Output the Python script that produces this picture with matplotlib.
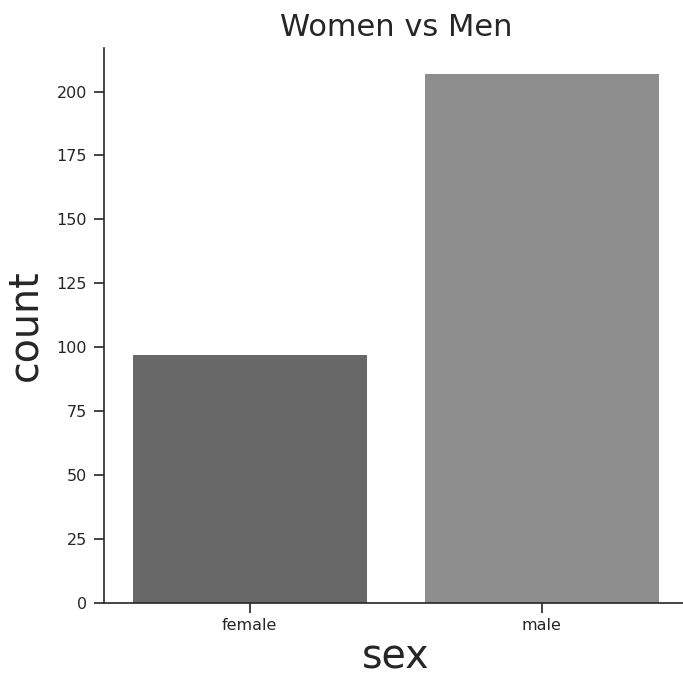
import matplotlib
matplotlib.use("Agg")
import matplotlib.pyplot as plt

# datos del gráfico
categorias = ["female", "male"]
conteos = [97, 207]
colores = ["#686868", "#8e8e8e"]

texto = "#262626"

fig = plt.figure(figsize=(6.83, 6.78), dpi=100)
ax = fig.add_axes([0.152, 0.111, 0.855, 0.818])

ax.bar(range(len(categorias)), conteos, width=0.8, color=colores)
ax.set_xticks(range(len(categorias)))
ax.set_xticklabels(categorias, fontsize=11.5, color=texto)
ax.set_xlim(-0.5, 1.5)
ax.set_ylim(0, 217)
ax.set_yticks(range(0, 201, 25))
ax.tick_params(axis="y", labelsize=11.5, labelcolor=texto, pad=5)
ax.tick_params(axis="x", pad=4)
ax.tick_params(colors=texto, width=1.2, length=7)

ax.spines["top"].set_visible(False)
ax.spines["right"].set_visible(False)
for s in ["left", "bottom"]:
    ax.spines[s].set_linewidth(1.2)
    ax.spines[s].set_color(texto)

ax.set_title("Women vs Men", fontsize=22, color=texto, pad=9)
ax.set_xlabel("sex", fontsize=28.5, color=texto, labelpad=3)
ax.set_ylabel("count", fontsize=28.5, color=texto, labelpad=8)

plt.savefig("out.png", dpi=100)
plt.close(fig)
